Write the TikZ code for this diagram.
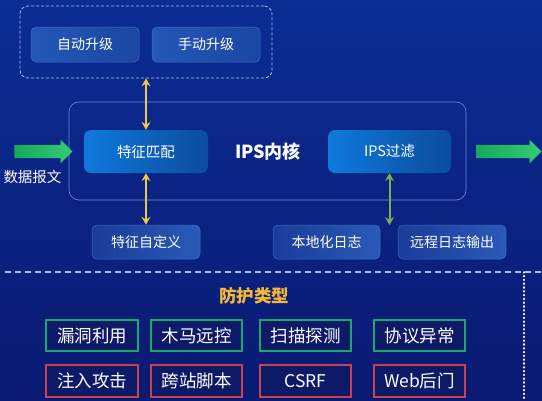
\documentclass[tikz,border=0pt]{standalone}
\usepackage{fontspec}
\setmainfont{Noto Sans CJK SC}
\usetikzlibrary{arrows.meta,shapes.arrows}
\definecolor{bgtop}{HTML}{0B2D94}
\definecolor{bgbot}{HTML}{0A1A72}
\definecolor{btnL}{HTML}{2458B6}
\definecolor{btnR}{HTML}{1A47A2}
\definecolor{btnline}{HTML}{3E6CC4}
\definecolor{coreL}{HTML}{0E7ADC}
\definecolor{coreR}{HTML}{0B4C9C}
\definecolor{lowL}{HTML}{1A3C98}
\definecolor{lowR}{HTML}{2A5AB8}
\definecolor{frameline}{HTML}{6C8CD4}
\definecolor{dashline}{HTML}{A8C0F0}
\definecolor{yarrow}{HTML}{F0C850}
\definecolor{garrow}{HTML}{7CB04E}
\definecolor{bigL}{HTML}{18A85A}
\definecolor{bigR}{HTML}{34CC74}
\definecolor{tagfill}{HTML}{0C1A68}
\definecolor{taggreen}{HTML}{1AA86C}
\definecolor{tagred}{HTML}{C8424F}
\definecolor{titleor}{HTML}{F5B830}
\tikzset{
  btn/.style={rounded corners=5pt, draw=btnline, line width=0.5pt, left color=btnL, right color=btnR,
    minimum width=108pt, minimum height=35pt, inner sep=0pt, text=white, font=\fontsize{14}{16}\selectfont},
  core/.style={rounded corners=7pt, left color=coreL, right color=coreR,
    minimum width=124pt, minimum height=43pt, inner sep=0pt, text=white, font=\fontsize{14.5}{17}\selectfont},
  low/.style={rounded corners=5pt, draw=btnline, line width=0.5pt, left color=lowL, right color=lowR,
    minimum width=108pt, minimum height=34pt, inner sep=0pt, text=white, font=\fontsize{14}{16}\selectfont},
  tag/.style={draw, line width=1.5pt, fill=tagfill, minimum height=31pt, inner sep=0pt,
    text=white, font=\fontsize{17.5}{20}\selectfont},
  taggr/.style={tag, draw=taggreen},
  tagrd/.style={tag, draw=tagred},
  bigarrow/.style={single arrow, single arrow head extend=5pt, single arrow tip angle=90,
    inner xsep=0pt, inner ysep=6.5pt, minimum width=23pt, left color=bigL, right color=bigR},
  yconn/.style={draw=yarrow, line width=2pt, {Stealth[length=8pt,width=9pt,inset=3pt]}-{Stealth[length=8pt,width=9pt,inset=3pt]}},
  gconn/.style={draw=garrow, line width=2pt, {Stealth[length=8pt,width=9pt,inset=3pt]}-{Stealth[length=8pt,width=9pt,inset=3pt]}},
}
\begin{document}
\begin{tikzpicture}[x=1pt,y=-1pt]
\useasboundingbox (0,0) rectangle (542,400);
\shade[top color=bgtop, bottom color=bgbot] (0,0) rectangle (542,400);

% upgrade group
\node[draw=dashline, dashed, dash pattern=on 3pt off 2pt, line width=0.8pt, rounded corners=8pt,
  minimum width=252pt, minimum height=72pt, inner sep=0pt] (upg) at (146,42) {};
\node[btn] (auto) at (85,44.5) {自动升级};
\node[btn] (manual) at (206,44.5) {手动升级};

% kernel frame
\node[draw=frameline, line width=0.6pt, rounded corners=10pt, minimum width=397pt, minimum height=98pt, inner sep=0pt] (kernel) at (267.5,151) {};
\node[core] (match) at (146,151.5) {特征匹配};
\node[core, minimum width=123pt] (filter) at (389.5,151.5) {IPS过滤};
\node[text=white, font=\fontsize{18}{20}\selectfont\bfseries] (kname) at (268,152) {IPS内核};

% big arrows
\node[bigarrow, minimum height=58pt] (inarrow) at (40,151.5) {};
\node[bigarrow, minimum height=65pt] (outarrow) at (505.5,151.5) {};
\node[text=white, font=\fontsize{14.5}{16}\selectfont] (pkt) at (32.5,177) {数据报文};

% lower boxes
\node[low] (custom) at (146,242) {特征自定义};
\node[low, minimum width=107pt] (local) at (326.5,242) {本地化日志};
\node[low] (remote) at (452,242) {远程日志输出};
\coordinate (logend) at (389.5,225);

% connectors
\draw[yconn] (upg.south) -- (match.north);
\draw[yconn] (match.south) -- (custom.north);
\draw[gconn] (filter.south -| logend) -- (logend);

% separators
\coordinate (sepL) at (5,272);
\coordinate (sepR) at (542,272);
\coordinate (vTop) at (524,272);
\coordinate (vBot) at (524,400);
\draw[dashline, line width=1.2pt, dash pattern=on 6pt off 4pt] (sepL) -- (sepR);
\draw[white, line width=2pt, line cap=round, dash pattern=on 0.6pt off 3.2pt] (vTop) -- (vBot);

% protection types
\node[text=titleor, font=\fontsize{17.5}{20}\selectfont\bfseries] (ptitle) at (254,296) {防护类型};
\node[taggr, minimum width=92pt] (t1) at (92,335.5) {漏洞利用};
\node[taggr, minimum width=91pt] (t2) at (196.5,335.5) {木马远控};
\node[taggr, minimum width=91pt] (t3) at (305.5,335.5) {扫描探测};
\node[taggr, minimum width=91pt] (t4) at (419.5,335.5) {协议异常};
\node[tagrd, minimum width=92pt, minimum height=32pt] (t5) at (92,381) {注入攻击};
\node[tagrd, minimum width=91pt, minimum height=32pt] (t6) at (196.5,381) {跨站脚本};
\node[tagrd, minimum width=91pt, minimum height=32pt] (t7) at (305.5,381) {CSRF};
\node[tagrd, minimum width=91pt, minimum height=32pt] (t8) at (419.5,381) {Web后门};
\end{tikzpicture}
\end{document}
